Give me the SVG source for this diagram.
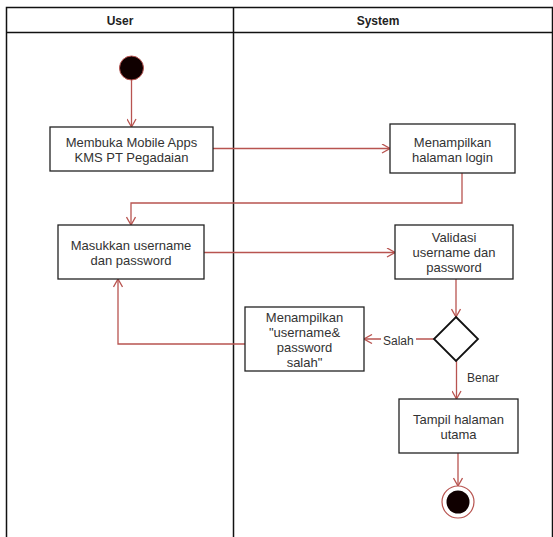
<svg xmlns="http://www.w3.org/2000/svg" width="553" height="537" viewBox="0 0 553 537">
  <style>
    .lane { fill: none; stroke: #111; stroke-width: 1.5; }
    .head { font-family: "Liberation Sans", Arial, sans-serif; font-size: 12px; font-weight: bold; fill: #222; text-anchor: middle; }
    .box { fill: #fff; stroke: #222; stroke-width: 1.3; }
    .txt { font-family: "Liberation Sans", Arial, sans-serif; font-size: 13px; fill: #333; text-anchor: middle; }
    .lbl { font-family: "Liberation Sans", Arial, sans-serif; font-size: 12px; fill: #333; }
    .flow { fill: none; stroke: #b85450; stroke-width: 1.3; marker-end: url(#open); }
  </style>
  <defs>
    <marker id="open" viewBox="0 0 10 10" refX="9" refY="5" markerWidth="10" markerHeight="10" markerUnits="userSpaceOnUse" orient="auto">
      <path d="M1,0.5 L9,5 L1,9.5" fill="none" stroke="#b85450" stroke-width="1.3"/>
    </marker>
  </defs>
  <rect width="553" height="537" fill="#fff"/>

  <!-- swimlanes -->
  <g id="swimlanes">
    <rect class="lane" x="6.5" y="7.5" width="546" height="540"/>
    <line class="lane" x1="6.5" y1="32.5" x2="552.5" y2="32.5"/>
    <line class="lane" x1="233.5" y1="7.5" x2="233.5" y2="537"/>
    <text class="head" x="120" y="25">User</text>
    <text class="head" x="378" y="25">System</text>
  </g>

  <!-- connectors -->
  <g id="connectors">
    <path class="flow" d="M131.5 80 V127"/>
    <path class="flow" d="M213 148.5 H390"/>
    <path class="flow" d="M462 173 V203 H131 V225"/>
    <path class="flow" d="M204 252.5 H395"/>
    <path class="flow" d="M456 279 V317"/>
    <path class="flow" d="M434 339 H364"/>
    <path class="flow" d="M245 344 H118 V279"/>
    <path class="flow" d="M456.5 361 V399"/>
    <path class="flow" d="M458 453 V486"/>
    <rect x="381" y="331" width="35" height="16" fill="#fff"/>
    <text class="lbl" x="383" y="345">Salah</text>
    <text class="lbl" x="467" y="381.5">Benar</text>
  </g>

  <g id="start">
    <circle cx="131.5" cy="68" r="12" fill="#100000" stroke="#b85450" stroke-width="1"/>
  </g>

  <g id="buka-apps">
    <rect class="box" x="50" y="127" width="163" height="44"/>
    <text class="txt" x="131.5" y="146.5">Membuka Mobile Apps</text>
    <text class="txt" x="131.5" y="161.5">KMS PT Pegadaian</text>
  </g>

  <g id="tampil-login">
    <rect class="box" x="390" y="124" width="125" height="49"/>
    <text class="txt" x="452.5" y="146.5">Menampilkan</text>
    <text class="txt" x="452.5" y="161.5">halaman login</text>
  </g>

  <g id="masukkan">
    <rect class="box" x="58" y="225" width="146" height="54"/>
    <text class="txt" x="131" y="249.5">Masukkan username</text>
    <text class="txt" x="131" y="264.5">dan password</text>
  </g>

  <g id="validasi">
    <rect class="box" x="395" y="225" width="118" height="54"/>
    <text class="txt" x="454" y="241.5">Validasi</text>
    <text class="txt" x="454" y="256.5">username dan</text>
    <text class="txt" x="454" y="271.5">password</text>
  </g>

  <g id="keputusan">
    <path d="M456 317 L478 339 L456 361 L434 339 Z" fill="#fff" stroke="#111" stroke-width="1.8"/>
  </g>

  <g id="pesan-salah">
    <rect class="box" x="245" y="307" width="119" height="64"/>
    <text class="txt" x="304.5" y="321.5">Menampilkan</text>
    <text class="txt" x="304.5" y="336.5">"username&amp;</text>
    <text class="txt" x="304.5" y="351.5">password</text>
    <text class="txt" x="304.5" y="366.5">salah"</text>
  </g>

  <g id="halaman-utama">
    <rect class="box" x="399" y="399" width="119" height="54"/>
    <text class="txt" x="458.5" y="423.5">Tampil halaman</text>
    <text class="txt" x="458.5" y="438.5">utama</text>
  </g>

  <g id="end">
    <circle cx="458" cy="502" r="16" fill="#fff" stroke="#b85450" stroke-width="1.2"/>
    <circle cx="458" cy="502" r="11.5" fill="#100000"/>
  </g>
</svg>
